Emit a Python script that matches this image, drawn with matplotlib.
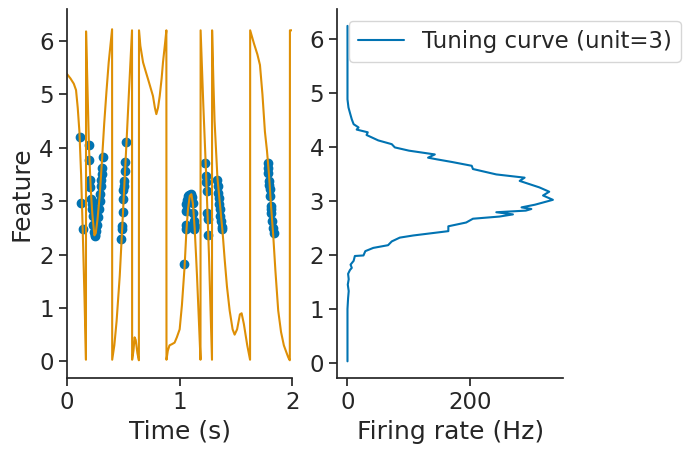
import numpy as np
import matplotlib
matplotlib.use('Agg')
import matplotlib.pyplot as plt
import seaborn as sns

# feature over time (wrapped to [0, 2pi))
time = [0.0, 0.03, 0.06, 0.08, 0.095, 0.11, 0.125, 0.14, 0.155, 0.168,
        0.169, 0.182, 0.195, 0.21, 0.225, 0.243, 0.255, 0.27, 0.29, 0.31,
        0.33, 0.35, 0.37, 0.40,
        0.401, 0.42, 0.44, 0.468, 0.49, 0.51, 0.528, 0.55, 0.577,
        0.578, 0.59, 0.60, 0.61, 0.625, 0.638,
        0.639, 0.651, 0.675, 0.70, 0.72, 0.745, 0.763, 0.78, 0.793, 0.808,
        0.823, 0.84, 0.852, 0.87, 0.882,
        0.883, 0.895, 0.91, 0.93, 0.955, 0.975, 1.0, 1.02, 1.044, 1.06,
        1.074, 1.09, 1.104, 1.118, 1.133, 1.145, 1.154, 1.17, 1.185,
        1.186, 1.21, 1.235, 1.26, 1.287,
        1.288, 1.30, 1.31, 1.335, 1.355, 1.38, 1.40, 1.42, 1.444, 1.47,
        1.488, 1.51, 1.535, 1.55, 1.57, 1.60, 1.625,
        1.626, 1.66, 1.69, 1.713, 1.735, 1.757, 1.775, 1.793, 1.81, 1.831,
        1.85, 1.875, 1.90, 1.925, 1.949, 1.965, 1.978,
        1.979, 2.0]
feature = [5.38, 5.3, 5.2, 5.08, 4.75, 4.3, 3.5, 2.4, 1.2, 0.03,
           6.18, 5.1, 4.0, 3.25, 2.75, 2.36, 2.40, 2.65, 3.1, 3.75,
           4.45, 5.05, 5.6, 6.22,
           0.03, 0.3, 0.75, 1.6, 2.5, 3.35, 4.1, 5.05, 6.2,
           0.03, 0.2, 0.45, 0.4, 0.15, 0.02,
           6.2, 5.91, 5.6, 5.42, 5.28, 5.1, 4.97, 4.75, 4.63, 4.75,
           4.97, 5.3, 5.6, 5.95, 6.2,
           0.03, 0.2, 0.3, 0.32, 0.35, 0.45, 0.6, 1.05, 1.78, 2.45,
           2.85, 3.1, 3.13, 2.95, 2.5, 2.0, 1.6, 0.8, 0.03,
           6.2, 4.8, 3.5, 2.0, 0.03,
           6.2, 5.2, 4.5, 3.45, 3.0, 2.45, 1.9, 1.4, 0.95, 0.6,
           0.5, 0.6, 0.88, 0.9, 0.7, 0.3, 0.03,
           6.2, 5.95, 5.75, 5.55, 5.0, 4.3, 3.95, 3.5, 2.95, 2.35,
           1.7, 0.95, 0.55, 0.3, 0.16, 0.07, 0.02,
           6.2, 6.2]

# spikes of unit 3
spike_t = [0.113, 0.128, 0.142,
           0.193, 0.195, 0.205, 0.207, 0.214, 0.218, 0.222, 0.228, 0.235,
           0.240, 0.246, 0.252, 0.258, 0.265, 0.272, 0.28, 0.29, 0.296,
           0.302, 0.306, 0.31, 0.314, 0.32,
           0.483, 0.486, 0.49, 0.494, 0.497, 0.50, 0.503, 0.506, 0.514,
           0.518, 0.527,
           1.038, 1.053, 1.06, 1.055, 1.06, 1.068, 1.074, 1.085, 1.098,
           1.108, 1.115, 1.122, 1.125, 1.13, 1.138,
           1.228, 1.233, 1.236, 1.239, 1.245, 1.248, 1.252,
           1.333, 1.337, 1.341, 1.346, 1.351, 1.356, 1.362, 1.367, 1.372,
           1.376,
           1.784, 1.786, 1.788, 1.79, 1.795, 1.799, 1.803, 1.807, 1.811,
           1.814, 1.819, 1.828, 1.834]
spike_f = [4.21, 2.96, 2.48,
           4.05, 3.77, 3.39, 3.26, 3.04, 2.95, 2.85, 2.72, 2.55,
           2.42, 2.35, 2.37, 2.45, 2.55, 2.70, 2.85, 3.0, 3.13,
           3.28, 3.40, 3.5, 3.62, 3.82,
           2.29, 2.48, 2.54, 2.79, 3.04, 3.2, 3.29, 3.38, 3.57,
           3.73, 4.10,
           1.83, 2.47, 2.55, 2.81, 2.94, 3.02, 3.09, 3.12, 3.14,
           3.08, 2.97, 2.78, 2.62, 2.47, 2.53,
           3.71, 3.47, 3.35, 3.19, 2.78, 2.66, 2.36,
           3.40, 3.28, 3.16, 3.05, 2.95, 2.85, 2.72, 2.62, 2.52,
           2.47,
           3.72, 3.62, 3.53, 3.38, 3.3, 3.22, 3.09, 2.91, 2.85,
           2.78, 2.63, 2.50, 2.41]

# tuning curve of unit 3
tc_feature = [0.03, 0.5, 1.0, 1.2, 1.33, 1.45, 1.55, 1.65, 1.72, 1.76,
              1.82, 1.89, 1.98, 1.99, 2.07, 2.13, 2.18, 2.25, 2.32, 2.36,
              2.44, 2.53, 2.60, 2.67, 2.71, 2.75, 2.79, 2.82, 2.85, 2.88,
              2.93, 3.02, 3.10, 3.17, 3.25, 3.34, 3.37, 3.43, 3.49, 3.59,
              3.65, 3.72, 3.77, 3.80, 3.86, 3.93, 3.99, 4.05, 4.12, 4.22,
              4.27, 4.32, 4.36, 4.42, 4.51, 4.61, 4.73, 4.88, 5.5, 6.24]
tc_rate = [0, 0, 0, 1, 2, 0.5, 2, 1, 4, 7,
           5, 10, 12, 26, 29, 42, 66, 72, 85, 107,
           164, 164, 193, 204, 247, 269, 242, 290, 299, 283,
           305, 334, 318, 328, 312, 288, 280, 288, 242, 204,
           202, 170, 145, 131, 142, 100, 77, 72, 50, 31,
           33, 15, 18, 10, 7, 4.5, 1.6, 0, 0, 0]

sns.set(style='ticks', context='notebook', font_scale=1.5, palette='colorblind')
colors = sns.color_palette('colorblind')

fig = plt.figure(figsize=(6.91, 4.55), dpi=100)
ax1 = fig.add_axes([0.097, 0.169, 0.326, 0.811])
ax2 = fig.add_axes([0.488, 0.169, 0.327, 0.811])

ax1.scatter(spike_t, spike_f, color=colors[0])
ax1.plot(time, feature, color=colors[1])
ax1.set_xlim(0, 2)
ax1.set_ylim(-0.05 * 2 * np.pi, 1.05 * 2 * np.pi)
ax1.set_xlabel('Time (s)')
ax1.set_ylabel('Feature')

ax2.plot(tc_rate, tc_feature, color=colors[0], label='Tuning curve (unit=3)')
ax2.set_xlabel('Firing rate (Hz)')
ax2.legend(loc='upper left')

sns.despine(fig)
fig.savefig('out.png')
